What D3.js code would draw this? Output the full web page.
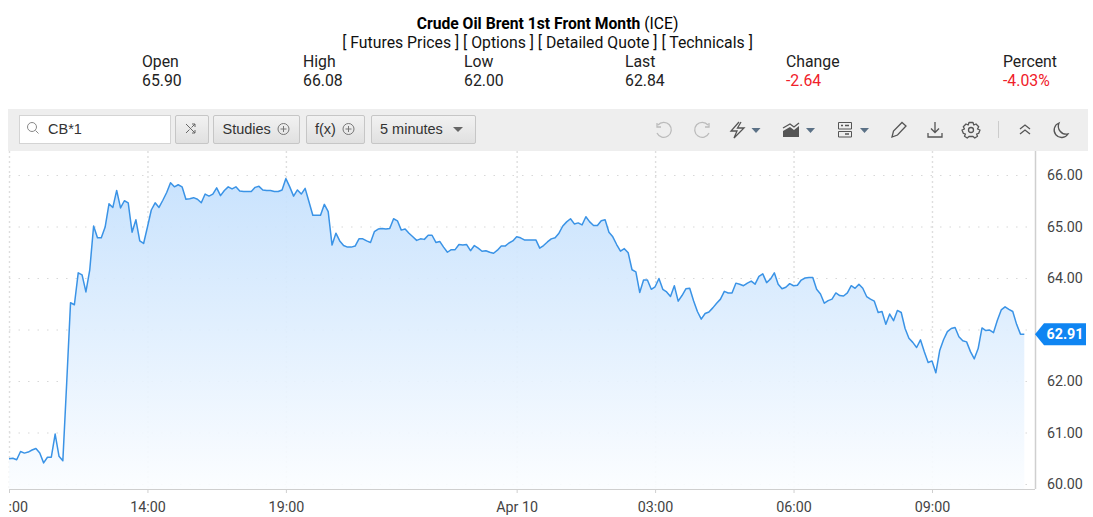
<!DOCTYPE html>
<html>
<head>
<meta charset="utf-8">
<script src="https://cdn.jsdelivr.net/npm/d3@7"></script>
<style>
  html, body { margin: 0; padding: 0; background: #fff; }
  svg { display: block; }
  text { font-family: Roboto, sans-serif; }
</style>
</head>
<body>
<svg id="chart"></svg>
<script>
// last prices, one per 5 minute bar
const prices = [
  60.49, 60.50, 60.47, 60.63, 60.60, 60.62, 60.66, 60.69, 60.60, 60.41, 60.52, 60.52, 60.97, 60.54, 60.45,
  61.96, 63.52, 63.48, 64.10, 64.06, 63.73, 64.16, 65.01, 64.78, 64.78, 64.99, 65.44, 65.37, 65.70, 65.36,
  65.50, 65.46, 64.89, 65.13, 64.72, 64.67, 64.99, 65.32, 65.46, 65.37, 65.51, 65.66, 65.85, 65.77, 65.81,
  65.77, 65.53, 65.54, 65.56, 65.53, 65.46, 65.63, 65.59, 65.63, 65.75, 65.60, 65.70, 65.77, 65.73, 65.77,
  65.69, 65.68, 65.68, 65.68, 65.76, 65.78, 65.71, 65.70, 65.70, 65.68, 65.68, 65.71, 65.93, 65.77, 65.59,
  65.71, 65.63, 65.74, 65.48, 65.22, 65.22, 65.22, 65.43, 65.29, 64.64, 64.87, 64.72, 64.63, 64.60, 64.60,
  64.62, 64.76, 64.76, 64.72, 64.69, 64.90, 64.95, 64.96, 64.95, 64.96, 65.15, 65.11, 64.93, 64.95, 64.87,
  64.80, 64.73, 64.76, 64.75, 64.83, 64.83, 64.69, 64.71, 64.60, 64.50, 64.55, 64.55, 64.65, 64.64, 64.65,
  64.53, 64.63, 64.58, 64.52, 64.53, 64.50, 64.48, 64.54, 64.62, 64.62, 64.68, 64.72, 64.80, 64.78, 64.74,
  64.74, 64.74, 64.74, 64.58, 64.63, 64.70, 64.76, 64.78, 64.87, 65.01, 65.09, 65.15, 65.05, 65.07, 65.03,
  65.19, 65.09, 65.02, 65.02, 65.11, 65.13, 64.89, 64.80, 64.65, 64.52, 64.57, 64.49, 64.16, 64.12, 63.72,
  63.96, 63.96, 63.78, 63.83, 63.99, 63.78, 63.73, 63.64, 63.85, 63.55, 63.66, 63.79, 63.80, 63.56, 63.35,
  63.20, 63.31, 63.34, 63.42, 63.51, 63.59, 63.74, 63.71, 63.71, 63.90, 63.88, 63.85, 63.90, 63.94, 63.88,
  64.03, 64.08, 63.91, 63.98, 64.10, 63.88, 63.79, 63.82, 63.89, 63.85, 63.86, 63.96, 64.00, 64.01, 64.01,
  63.78, 63.69, 63.51, 63.56, 63.59, 63.71, 63.66, 63.65, 63.71, 63.85, 63.80, 63.88, 63.80, 63.64, 63.59,
  63.55, 63.33, 63.35, 63.10, 63.30, 63.17, 63.37, 63.33, 63.02, 62.83, 62.75, 62.65, 62.80, 62.57, 62.36,
  62.39, 62.16, 62.59, 62.80, 62.96, 63.02, 63.04, 62.86, 62.78, 62.76, 62.57, 62.43, 62.63, 63.03, 62.98,
  62.99, 62.94, 63.18, 63.38, 63.44, 63.39, 63.35, 63.10, 62.91, 62.91
];

const xTickBars = [0, 36, 72, 132, 168, 204, 240];
const xTickLabels = [":00", "14:00", "19:00", "Apr 10", "03:00", "06:00", "09:00"];
const yGrid = [60, 61, 62, 63, 64, 65, 66];
const yLabels = [60, 61, 62, 64, 65, 66]; // 63.00 sits under the price flag
const lastLabel = 62.91;

const quoteHeads = ["Open", "High", "Low", "Last", "Change", "Percent"];
const quoteValues = ["65.90", "66.08", "62.00", "62.84", "-2.64", "-4.03%"];
const quoteLinks = "[ Futures Prices ] [ Options ] [ Detailed Quote ] [ Technicals ]";

const width = 1093;
const height = 517;
const plot = { left: 9, right: 1035, top: 151, bottom: 489 };
const barFont = "'Liberation Sans', Arial, sans-serif";

const svg = d3.select("#chart").attr("width", width).attr("height", height)
  .attr("viewBox", `0 0 ${width} ${height}`);

const x = d3.scaleLinear().domain([0, 240]).range([9, 932]);
const y = d3.scaleLinear().domain([60, 66]).range([484, 175]);

// ===== HEADER =====
const title = svg.append("text").attr("x", 547.5).attr("y", 28.5)
  .attr("text-anchor", "middle").attr("font-size", 15.7).attr("fill", "#000");
title.append("tspan").attr("font-weight", 700).text("Crude Oil Brent 1st Front Month");
title.append("tspan").text(" (ICE)");

svg.append("text").attr("x", 547.5).attr("y", 47.5).attr("text-anchor", "middle")
  .attr("font-size", 15.8).attr("fill", "#111").text(quoteLinks);

const quoteX = [142, 303, 464, 625, 786, 1003];
quoteHeads.forEach((h, i) => {
  svg.append("text").attr("x", quoteX[i]).attr("y", 66.5).attr("font-size", 15.8).attr("fill", "#222").text(h);
  svg.append("text").attr("x", quoteX[i]).attr("y", 85.5).attr("font-size", 15.8)
    .attr("fill", i > 3 ? "#f0202a" : "#222").text(quoteValues[i]);
});

// ===== TOOLBAR =====
const bar = svg.append("g");
bar.append("rect").attr("x", 8).attr("y", 109).attr("width", 1080).attr("height", 42).attr("fill", "#eeeeee");
bar.append("rect").attr("x", 19.5).attr("y", 115.5).attr("width", 151).attr("height", 28)
  .attr("fill", "#fff").attr("stroke", "#d4d4d4");
bar.append("circle").attr("cx", 32).attr("cy", 127).attr("r", 4.5).attr("fill", "none").attr("stroke", "#888");
bar.append("path").attr("d", "M35.5 130.5L38.5 133.5").attr("stroke", "#888").attr("fill", "none");

const grad = svg.append("defs");
const btn = grad.append("linearGradient").attr("id", "btn").attr("x1", 0).attr("x2", 0).attr("y1", 0).attr("y2", 1);
btn.append("stop").attr("offset", 0).attr("stop-color", "#f2f2f2");
btn.append("stop").attr("offset", 1).attr("stop-color", "#e0e0e0");

[[175, 33], [213, 86], [306, 58], [371, 104]].forEach(b => {
  bar.append("rect").attr("x", b[0] + 0.5).attr("y", 115.5).attr("width", b[1]).attr("height", 28).attr("rx", 1.5)
    .attr("fill", "url(#btn)").attr("stroke", "#c6c6c6");
});
bar.append("path").attr("d", "M186 124L195 133M186 133L189.5 129.5M191.5 127.5L195 124M192 124H195V127M192 133H195V130")
  .attr("stroke", "#666").attr("fill", "none");

[[48, "CB*1"], [222.5, "Studies"], [315, "f(x)"], [380, "5 minutes"]].forEach(t => {
  bar.append("text").attr("x", t[0]).attr("y", 134).attr("font-size", 14.5)
    .style("font-family", barFont).attr("fill", "#333").text(t[1]);
});

[283.5, 348.5].forEach(cx => {
  bar.append("circle").attr("cx", cx).attr("cy", 129).attr("r", 5.5).attr("fill", "none").attr("stroke", "#777");
  bar.append("path").attr("d", `M${cx - 3} 129H${cx + 3}M${cx} 126V132`).attr("stroke", "#777").attr("fill", "none");
});
bar.append("path").attr("d", "M453 127H463L458 132Z").attr("fill", "#666");

const icon = bar.append("g").attr("fill", "none").attr("stroke", "#555").attr("stroke-width", 1.3);
icon.append("path").attr("stroke", "#bbb").attr("d", "M658 125A7.5 7.5 0 1 1 657 133M657 123V127H661");
icon.append("path").attr("stroke", "#bbb").attr("d", "M708 125A7.5 7.5 0 1 0 709 133M709 123V127H705");
icon.append("path").attr("d", "M739 122L731 131H737L734 138L744 128H737.5L741 122");
icon.append("path").attr("fill", "#555").attr("stroke", "none").attr("d", "M783 137V131L790 127L794 130L799 126V137Z");
icon.append("path").attr("d", "M783 128L790 124L794 127L799 123");
icon.append("path").attr("stroke-width", 1).attr("d", "M838.5 122.5H851.5V129H838.5ZM838.5 131.5H851.5V137H838.5Z");
icon.append("path").attr("stroke-width", 1.5).attr("d", "M841 125.5H843M845 125.5H849M845 134H849");
icon.append("path").attr("d", "M892 137L893.5 131L902 122.5L906 126L897.5 135Z");
icon.append("path").attr("d", "M935 122V132M931 128.5L935 132.5L939 128.5M928 133V137H942V133");
icon.append("circle").attr("cx", 971).attr("cy", 130).attr("r", 2.5);
icon.append("path").attr("stroke-linejoin", "round")
  .attr("d", "M969 122.5H973L973.8 125L976 124L978.7 126.7L977.5 129L980 130L978.7 133.3L976.6 134L977.5 136.3L974.8 138L973 136.5H969L967.2 138L964.5 136.3L965.4 134L963.3 133.3L962 130L964.5 129L963.3 126.7L966 124L968.2 125Z");
bar.append("path").attr("d", "M998.5 121V138").attr("stroke", "#ccc");
icon.append("path").attr("d", "M1020 129L1025 125L1030 129M1020 134L1025 130L1030 134");
icon.append("path").attr("d", "M1059 123A7.5 7.5 0 1 0 1068 134A8 8 0 0 1 1059 123Z");
[[751.5, 760.5], [806, 815], [860, 869]].forEach(a => {
  bar.append("path").attr("d", `M${a[0]} 128H${a[1]}L${(a[0] + a[1]) / 2} 133Z`).attr("fill", "#5b7186");
});

// ===== CHART =====
const areaGrad = grad.append("linearGradient").attr("id", "fade")
  .attr("gradientUnits", "userSpaceOnUse").attr("x1", 0).attr("x2", 0).attr("y1", 175).attr("y2", 489);
areaGrad.append("stop").attr("offset", 0).attr("stop-color", "#c4e0fd");
areaGrad.append("stop").attr("offset", 1).attr("stop-color", "#fbfdff");

// grid lines
svg.append("g").selectAll("line").data(yGrid).join("line")
  .attr("x1", plot.left).attr("x2", plot.right)
  .attr("y1", d => y(d) + 0.5).attr("y2", d => y(d) + 0.5)
  .attr("stroke", "#d8d8d8").attr("stroke-width", 1.2).attr("stroke-dasharray", "1.5 8");
svg.append("g").selectAll("line").data(xTickBars).join("line")
  .attr("x1", d => x(d) + 0.5).attr("x2", d => x(d) + 0.5)
  .attr("y1", plot.top).attr("y2", plot.bottom)
  .attr("stroke", "#dedede").attr("stroke-width", 1.4).attr("stroke-dasharray", "2 3");

const area = d3.area().x((d, i) => x(i)).y0(plot.bottom).y1(d => y(d));
const line = d3.line().x((d, i) => x(i)).y(d => y(d));

svg.append("path").datum(prices).attr("fill", "url(#fade)").attr("fill-opacity", 0.92).attr("d", area);
svg.append("path").datum(prices).attr("fill", "none").attr("stroke", "#3a93e6")
  .attr("stroke-width", 1.5).attr("stroke-linejoin", "round").attr("d", line);

// axes
const xAxis = svg.append("g")
  .attr("transform", `translate(0, ${plot.bottom})`)
  .call(d3.axisBottom(x).tickValues(xTickBars).tickFormat((d, i) => xTickLabels[i]).tickSize(4).tickPadding(9));
xAxis.select(".domain").attr("stroke", "#cfcfcf").attr("d", `M${plot.left},0.5H${plot.right}`);
xAxis.selectAll("line").attr("stroke", "#cfcfcf");
xAxis.selectAll("text").attr("font-size", 14.3).attr("fill", "#444").attr("font-family", "Roboto, sans-serif");
// first label is cut at the chart edge in the original, only its end is left
xAxis.selectAll("text").filter((d, i) => i === 0).attr("text-anchor", "start").attr("x", -1);

const yAxis = svg.append("g").attr("transform", `translate(${plot.right}, 0)`)
  .call(d3.axisRight(y).tickValues(yLabels).tickFormat(d3.format(".2f")).tickSize(0).tickPadding(12));
yAxis.select(".domain").attr("stroke", "#cfcfcf").attr("stroke-width", 1.5)
  .attr("d", `M0.5,${plot.top}V${plot.bottom}`);
yAxis.selectAll("text").attr("font-size", 14.3).attr("fill", "#444").attr("font-family", "Roboto, sans-serif");

// last price flag
const flagY = y(lastLabel);
svg.append("path")
  .attr("d", `M1035 ${flagY}L1044 ${flagY - 11}H1086V${flagY + 11}H1044Z`)
  .attr("fill", "#0f85f2");
svg.append("text").attr("x", 1065).attr("y", flagY + 5).attr("text-anchor", "middle")
  .attr("font-size", 14.3).attr("font-weight", 700).attr("fill", "#fff").text(lastLabel.toFixed(2));
</script>
</body>
</html>
